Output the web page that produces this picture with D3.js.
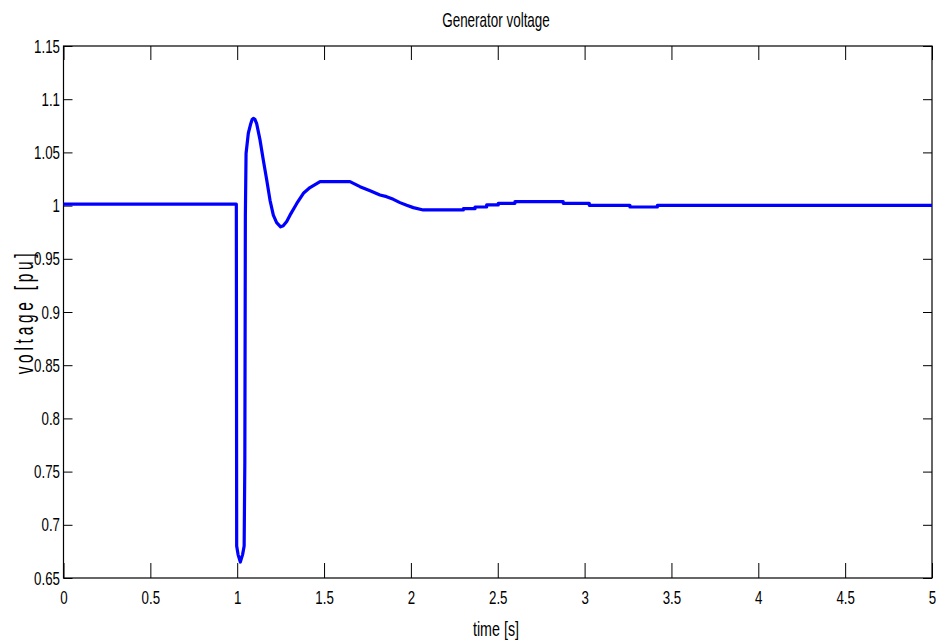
<!DOCTYPE html>
<html>
<head>
<meta charset="utf-8">
<script src="https://cdn.jsdelivr.net/npm/d3@7"></script>
<style>
  html, body { margin: 0; padding: 0; background: #fff; }
  svg { display: block; }
  text { font-family: "Liberation Sans", Arial, sans-serif; fill: #000; }
</style>
</head>
<body>
<svg id="chart" width="941" height="644"></svg>
<script>
// Generator terminal voltage after a short fault at t = 1 s
const timeSec = [
  0, 0.995, 0.997, 1.005, 1.018, 1.031, 1.040, 1.044, 1.047, 1.051,
  1.064, 1.078, 1.086, 1.093, 1.102, 1.112, 1.131, 1.150, 1.170, 1.189, 1.208, 1.227,
  1.250, 1.265, 1.285, 1.304, 1.343, 1.381, 1.419, 1.477, 1.492, 1.649, 1.707, 1.765,
  1.822, 1.860, 1.899, 1.937, 1.976, 2.014, 2.071,
  2.302, 2.302, 2.369, 2.369, 2.436, 2.436, 2.503, 2.503, 2.599, 2.599,
  2.877, 2.877, 3.027, 3.027, 3.261, 3.261, 3.419, 3.419, 5.0
];
const voltagePu = [
  1.0013, 1.0013, 0.680, 0.672, 0.665, 0.672, 0.680, 0.760, 0.990, 1.049,
  1.068, 1.077, 1.081, 1.082, 1.081, 1.077, 1.062, 1.043, 1.024, 1.005, 0.991, 0.984,
  0.980, 0.981, 0.985, 0.991, 1.002, 1.0116, 1.017, 1.0225, 1.0225, 1.0225, 1.0178, 1.0140,
  1.0100, 1.0084, 1.0059, 1.0028, 1.0003, 0.9981, 0.9959,
  0.9959, 0.9971, 0.9971, 0.9987, 0.9987, 1.0006, 1.0006, 1.0021, 1.0021, 1.0037,
  1.0037, 1.0021, 1.0021, 1.0003, 1.0003, 0.9987, 0.9987, 1.0003, 1.0003
];
const xTicks = [0, 0.5, 1, 1.5, 2, 2.5, 3, 3.5, 4, 4.5, 5];
const yTicks = [0.65, 0.7, 0.75, 0.8, 0.85, 0.9, 0.95, 1, 1.05, 1.1, 1.15];
const titleText = "Generator voltage";
const xLabelText = "time [s]";
const yLabelText = "voltage [pu]";

(function draw() {
  const svg = d3.select("#chart");
  const pLeft = 63.5, pRight = 932, pTop = 46, pBottom = 578;

  const x = d3.scaleLinear().domain([0, 5]).range([pLeft, pRight]);
  const y = d3.scaleLinear().domain([0.65, 1.15]).range([pBottom, pTop]);

  // narrow the glyphs horizontally, keeping their height
  function condense(sel, k) {
    sel.each(function () {
      const len = this.getComputedTextLength();
      d3.select(this).attr("textLength", len * k).attr("lengthAdjust", "spacingAndGlyphs");
    });
  }

  const fmt = d => String(d);

  // bottom axis: inward ticks
  const xAxisB = svg.append("g").attr("transform", `translate(0,${pBottom})`)
    .call(d3.axisBottom(x).tickValues(xTicks).tickSizeInner(-15).tickSizeOuter(0).tickFormat(fmt));
  xAxisB.select(".domain").remove();
  xAxisB.selectAll("line").attr("stroke", "#000");
  xAxisB.selectAll("text").attr("y", 26).attr("dy", 0).style("font-size", "19px");

  // top axis ticks (inward, no labels)
  const xAxisT = svg.append("g").attr("transform", `translate(0,${pTop})`)
    .call(d3.axisTop(x).tickValues(xTicks).tickSizeInner(-14).tickSizeOuter(0).tickFormat(""));
  xAxisT.select(".domain").remove();
  xAxisT.selectAll("line").attr("stroke", "#000");

  // left axis
  const yAxisL = svg.append("g").attr("transform", `translate(${pLeft},0)`)
    .call(d3.axisLeft(y).tickValues(yTicks).tickSizeInner(-9).tickSizeOuter(0).tickFormat(fmt));
  yAxisL.select(".domain").remove();
  yAxisL.selectAll("line").attr("stroke", "#000");
  yAxisL.selectAll("text").attr("x", -3.5).attr("y", 6).attr("dy", 0).style("font-size", "19px");

  // right axis ticks
  const yAxisR = svg.append("g").attr("transform", `translate(${pRight},0)`)
    .call(d3.axisRight(y).tickValues(yTicks).tickSizeInner(-9).tickSizeOuter(0).tickFormat(""));
  yAxisR.select(".domain").remove();
  yAxisR.selectAll("line").attr("stroke", "#000");

  svg.selectAll("g").attr("font-family", null).attr("font-size", null);

  // frame
  svg.append("rect")
    .attr("x", pLeft).attr("y", pTop)
    .attr("width", pRight - pLeft).attr("height", pBottom - pTop)
    .attr("fill", "none").attr("stroke", "#000").attr("stroke-width", 1.2);

  // voltage trace
  const pts = timeSec.map((t, i) => [t, voltagePu[i]]);
  const line = d3.line().x(d => x(d[0])).y(d => y(d[1]));
  svg.append("path")
    .datum(pts)
    .attr("d", line)
    .attr("fill", "none")
    .attr("stroke", "#0000ff")
    .attr("stroke-width", 3.2)
    .attr("stroke-linejoin", "round");

  // labels
  svg.append("text").attr("class", "title")
    .attr("x", 496).attr("y", 27)
    .attr("text-anchor", "middle")
    .style("font-size", "21px")
    .text(titleText);

  svg.append("text").attr("class", "xlabel")
    .attr("x", 496).attr("y", 636)
    .attr("text-anchor", "middle")
    .style("font-size", "21px")
    .text(xLabelText);

  // rotated label: narrow glyphs with wide letter spacing
  svg.append("text").attr("class", "ylabel")
    .attr("transform", `translate(33,${(pTop + pBottom) / 2}) rotate(-90) scale(0.62,1)`)
    .attr("text-anchor", "middle")
    .style("font-size", "25px")
    .style("letter-spacing", "6px")
    .text(yLabelText);

  condense(svg.selectAll(".tick text"), 0.7);
  condense(svg.selectAll(".title"), 0.64);
  condense(svg.selectAll(".xlabel"), 0.68);
})();
</script>
</body>
</html>
